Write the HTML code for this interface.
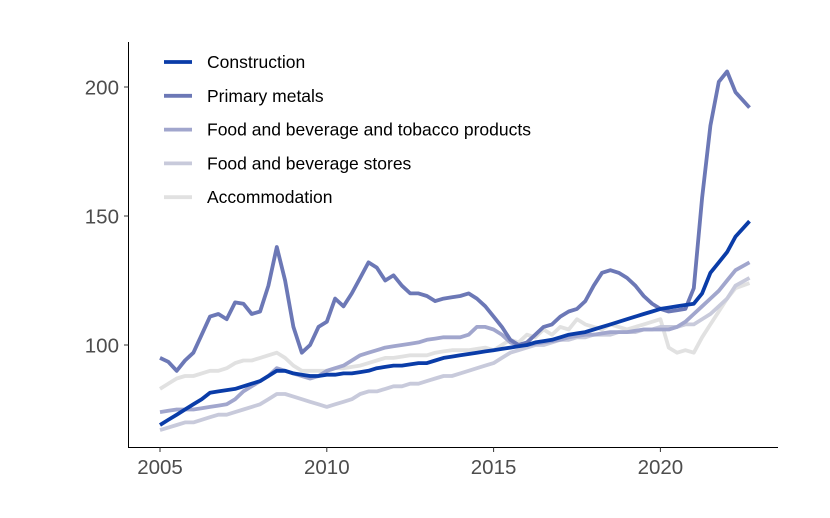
<!DOCTYPE html>
<html><head><meta charset="utf-8"><style>
html,body{margin:0;padding:0;background:#fff;}
svg{display:block;font-family:"Liberation Sans",Arial,sans-serif;}
</style></head><body>
<svg id="chart" width="830" height="518"></svg>
<script>
const seriesNames = ["Construction","Primary metals","Food and beverage and tobacco products","Food and beverage stores","Accommodation"];
const seriesColors = ["#0a3ca8","#6c78b6","#a1a6cd","#c8cadb","#e1e1e1"];
const dates = [];
for (let i = 0; i < 70; i++) dates.push(2005 + i * 0.25);
dates.push(2022.67);
const construction = [69,71,73,75,77,79,81.5,82,82.5,83,84,85,86,88,90,90,89,88.5,88,88,88.5,88.5,89,89,89.5,90,91,91.5,92,92,92.5,93,93,94,95,95.5,96,96.5,97,97.5,98,98.5,99,99.5,100,101,101.5,102,103,104,104.5,105,106,107,108,109,110,111,112,113,114,114.5,115,115.5,116,120,128,132,136,142,148];
const primaryMetals = [95,93.5,90,94,97,104,111,112,110,116.5,116,112,113,123,138,125,107,97,100,107,109,118,115,120,126,132,130,125,127,123,120,120,119,117,118,118.5,119,120,118,115,111,107,102,100,101,104,107,108,111,113,114,117,123,128,129,128,126,123,119,116,114,113,113.5,114,122,157,185,202,206,198,192];
const foodBevTobacco = [74,74.5,75,75,75,75.5,76,76.5,77,79,82,84,86,88,91,90,89,88,87,88,90,91,92,94,96,97,98,99,99.5,100,100.5,101,102,102.5,103,103,103,104,107,107,106,104,101,100,100,100.5,101,101.5,102,103,103.5,104,104,104.5,105,105,105,105.5,106,106,106,106,107,109,112,115,118,121,125,129,132];
const foodBevStores = [67,68,69,70,70,71,72,73,73,74,75,76,77,79,81,81,80,79,78,77,76,77,78,79,81,82,82,83,84,84,85,85,86,87,88,88,89,90,91,92,93,95,97,98,99,100,100,101,102,102,103,103,104,104,104,105,105,105,106,106,107,107,107,108,108,110,112,115,118,123,126];
const accommodation = [83,85,87,88,88,89,90,90,91,93,94,94,95,96,97,95,92,90,90,90,90,91,91,91.5,92,93,94,95,95,95.5,96,96,96,97,97.5,98,98,98,98.5,99,98,100,102,101,104,103,106,104,107,106,110,108,107,106,108,107,106,107,108,109,110,99,97,98,97,103,108,113,118,122,124];
const allSeries = [construction, primaryMetals, foodBevTobacco, foodBevStores, accommodation];
const xTicks = [2005,2010,2015,2020];
const yTicks = [100,150,200];

const NS = "http://www.w3.org/2000/svg";
const svg = document.getElementById("chart");
const xScale = t => 160 + (t - 2005) * 33.36;
const yScale = v => 345 - (v - 100) * 2.58;
function mk(tag, attrs, parent) {
  const e = document.createElementNS(NS, tag);
  for (const k in attrs) e.setAttribute(k, attrs[k]);
  (parent || svg).appendChild(e);
  return e;
}
const yAxis = mk("line", {x1:128.5, y1:42, x2:128.5, y2:447.5, stroke:"#000", "stroke-width":1});


const xAxis = mk("line", {x1:128, y1:447.5, x2:778, y2:447.5, stroke:"#000", "stroke-width":1});


yTicks.forEach(v => {
  const y = yScale(v);
  const tk = mk("line", {x1:124, x2:128.5, y1:y, y2:y, stroke:"#333", "stroke-width":1});
  
  
  const lb = mk("text", {x:119, y:y + 7.5, "text-anchor":"end", "font-size":20.5, fill:"#4d4d4d"});
  lb.textContent = v;
  
  
});
xTicks.forEach(t => {
  const x = xScale(t);
  const tk = mk("line", {x1:x, x2:x, y1:447.5, y2:452, stroke:"#333", "stroke-width":1});
  
  
  const lb = mk("text", {x:x, y:474, "text-anchor":"middle", "font-size":20.5, fill:"#4d4d4d"});
  lb.textContent = t;
  
  
});
for (let s = allSeries.length - 1; s >= 0; s--) {
  const d = allSeries[s].map((v, i) => (i ? "L" : "M") + xScale(dates[i]).toFixed(1) + "," + yScale(v).toFixed(1)).join("");
  const p = mk("path", {d:d, fill:"none", stroke:seriesColors[s], "stroke-width":3.8, "stroke-linejoin":"round", "stroke-linecap":"butt"});
  
  
}
seriesNames.forEach((n, i) => {
  const y = 62 + i * 33.8;
  const g = mk("g", {});
  
  
  mk("line", {x1:164, x2:192, y1:y, y2:y, stroke:seriesColors[i], "stroke-width":3.8}, g);
  const t = mk("text", {x:207, y:y + 6, "font-size":17.5, fill:"#000"}, g);
  t.textContent = n;
});
</script>
</body></html>
